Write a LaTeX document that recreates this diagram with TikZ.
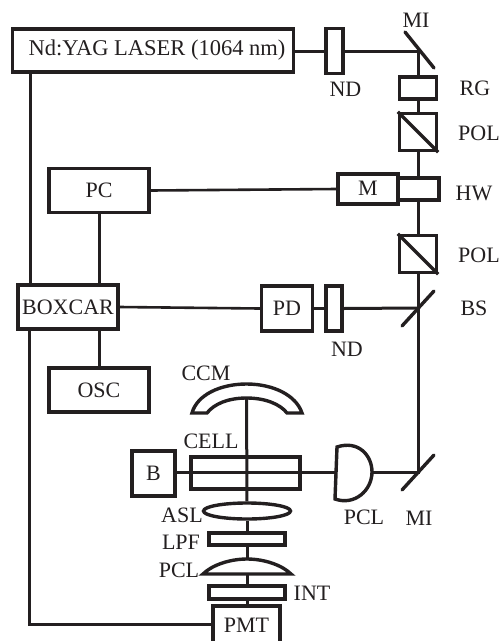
\documentclass[tikz,border=0pt]{standalone}
\usepackage{fontspec}
\setmainfont{Liberation Serif}
\usetikzlibrary{shapes.geometric}
\definecolor{ink}{HTML}{231F20}
\tikzset{
  lbl/.style={text=ink,inner sep=0pt,font=\fontsize{22}{24}\selectfont},
  box/.style={draw=ink,line width=3.4pt,rectangle,inner sep=0pt,text=ink,font=\fontsize{22}{24}\selectfont},
  wire/.style={draw=ink,line width=3pt},
  shapeline/.style={draw=ink,line width=3.4pt,line join=miter},
  mirror/.style={draw=ink,line width=3.4pt,line cap=round}
}
\begin{document}
\begin{tikzpicture}[x=1pt,y=-1pt]
\useasboundingbox (0,0) rectangle (502,641);
\clip (0,0) rectangle (502,641);
% boxes
\node[box,minimum width=281pt,minimum height=43pt,font=\fontsize{22.5}{24}\selectfont] (laser) at (153,50.5) {\hspace*{8pt}Nd:YAG LASER (1064 nm)};
\node[box,minimum width=17pt,minimum height=45pt] (ndone) at (334.5,51) {};
\node[box,minimum width=37pt,minimum height=22pt] (rg) at (418,88) {};
\node[box,minimum width=37pt,minimum height=37pt] (polone) at (418,132) {};
\node[box,minimum width=41pt,minimum height=22pt] (hw) at (418.5,189) {};
\node[box,minimum width=60pt,minimum height=30pt] (m) at (368,189) {\raisebox{2pt}{M}};
\node[box,minimum width=100pt,minimum height=44pt] (pc) at (99,190.5) {PC};
\node[box,minimum width=37pt,minimum height=37pt] (poltwo) at (418,254) {};
\node[box,minimum width=100pt,minimum height=44pt] (boxcar) at (68,307) {BOXCAR};
\node[box,minimum width=51pt,minimum height=45pt] (pd) at (287,308.5) {PD};
\node[box,minimum width=16pt,minimum height=45pt] (ndtwo) at (334,308.5) {};
\node[box,minimum width=100pt,minimum height=44pt] (osc) at (99,390) {OSC};
\node[box,minimum width=43pt,minimum height=45pt] (b) at (153.5,473.5) {B};
\node[box,minimum width=109pt,minimum height=32pt] (cell) at (245.5,473) {};
\node[draw=ink,line width=3.4pt,ellipse,inner sep=0pt,minimum width=87pt,minimum height=16pt] (asl) at (247,511) {};
\node[box,minimum width=76pt,minimum height=12pt] (lpf) at (247,539) {};
\node[box,minimum width=76pt,minimum height=13pt] (int) at (247,592.5) {};
\node[box,minimum width=67pt,minimum height=39pt] (pmt) at (246.5,625.5) {PMT};
% free ends of connectors
\coordinate (mione) at (418,51);
\coordinate (bs) at (418,308);
\coordinate (mitwo) at (418,472);
\coordinate (ccmtop) at (246.5,398);
\coordinate (pclleft) at (336,472);
\coordinate (pclright) at (372,472);
\coordinate (pcltop) at (247,559);
\coordinate (pclbase) at (247,574);
\coordinate (lasertap) at (30,72);
\coordinate (boxtopa) at (30,285);
\coordinate (boxbota) at (29,329);
\coordinate (corner) at (29,624);
% connectors
\draw[wire] (laser.east |- mione) -- (ndone.west |- mione);
\draw[wire] (ndone.east |- mione) -- (mione) -- (rg.north);
\draw[wire] (rg.south) -- (polone.north);
\draw[wire] (polone.south) -- (polone.south |- hw.north);
\draw[wire] (polone.south |- hw.south) -- (poltwo.north);
\draw[wire] (poltwo.south) -- (bs) -- (mitwo) -- (pclright);
\draw[wire] (pclleft) -- (pclleft -| b.east);
\draw[wire,line width=2.6pt] (pc.east) -- (m.west);
\draw[wire] (pc.south) -- (pc.south |- boxcar.north);
\draw[wire] (pc.south |- boxcar.south) -- (osc.north);
\draw[wire,line width=2.6pt] (boxcar.east) -- (pd.west);
\draw[wire] (pd.east) -- (ndtwo.west);
\draw[wire] (ndtwo.east) -- (bs);
\draw[wire] (lasertap) -- (boxtopa);
\draw[wire] (boxbota) -- (corner) -- (pmt.west |- corner);
\draw[wire] (ccmtop) -- (asl.north);
\draw[wire] (asl.south) -- (lpf.north);
\draw[wire] (lpf.south) -- (pcltop);
\draw[wire] (pclbase) -- (int.north);
\draw[wire] (int.south) -- (int.south |- pmt.north);
% optics
\draw[mirror] (405,32) -- (434,68);
\draw[mirror] (402,490) -- (434,455);
\draw[mirror] (402,326) -- (434,291);
\draw[shapeline] (polone.north west) -- (polone.south east);
\draw[shapeline] (poltwo.north west) -- (poltwo.south east);
\draw[shapeline] (192,413) .. controls (197,395) and (220,384) .. (246.5,384) .. controls (273,384) and (296,395) .. (302,413) -- (287,413) .. controls (280,404) and (265,398) .. (246.5,398) .. controls (228,398) and (214,404) .. (207,413) -- cycle;
\draw[shapeline] (337,447) .. controls (358,440) and (372,455) .. (372,472) .. controls (372,490) and (355,506) .. (335,499) -- cycle;
\draw[shapeline] (203,574) .. controls (212,565) and (230,559) .. (247,559) .. controls (264,559) and (282,565) .. (291,574) -- cycle;
% labels
\node[lbl] (tmi) at (416,20) {MI};
\node[lbl] (tnd) at (345.5,89) {ND};
\node[lbl] (trg) at (475,88) {RG};
\node[lbl] (tpol) at (479,133) {POL};
\node[lbl] (thw) at (474,193) {HW};
\node[lbl] (tpolb) at (479,255) {POL};
\node[lbl] (tbs) at (474,308) {BS};
\node[lbl] (tndb) at (347,349) {ND};
\node[lbl] (tccm) at (206,373) {CCM};
\node[lbl] (tcell) at (211,441) {CELL};
\node[lbl] (tasl) at (182,515) {ASL};
\node[lbl] (tlpf) at (181,542) {LPF};
\node[lbl] (tpcl) at (179,570) {PCL};
\node[lbl] (tint) at (312,593) {INT};
\node[lbl] (tpclb) at (364,517) {PCL};
\node[lbl] (tmib) at (419,518) {MI};
\end{tikzpicture}
\end{document}
